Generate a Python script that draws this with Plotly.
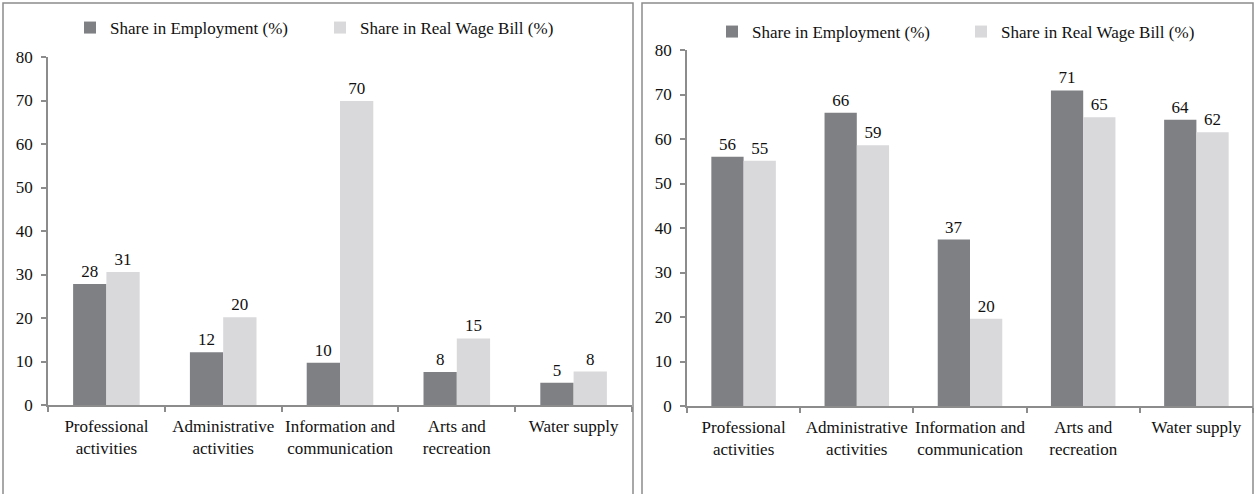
import plotly.graph_objects as go

categories = ["Professional<br>activities", "Administrative<br>activities",
              "Information and<br>communication", "Arts and<br>recreation", "Water supply"]
series_names = ["Share in Employment (%)", "Share in Real Wage Bill (%)"]

left_employment = [27.8, 12.1, 9.7, 7.6, 5.1]
left_wage_bill = [30.6, 20.2, 69.9, 15.3, 7.7]
right_employment = [56.0, 65.9, 37.4, 70.9, 64.3]
right_wage_bill = [55.1, 58.6, 19.6, 64.9, 61.5]

y_ticks = [0, 10, 20, 30, 40, 50, 60, 70, 80]

DARK = "#7f8084"
LIGHT = "#d9d9db"
AXIS = "#8c8c8c"
FONT = "Liberation Serif, Times New Roman, serif"
TXT = "#111111"
FS = 17
W, H = 1255, 494

fig = go.Figure()

def add_pair(emp, wage, xa, ya, leg):
    for vals, name, col in ((emp, series_names[0], DARK), (wage, series_names[1], LIGHT)):
        fig.add_trace(go.Bar(
            x=categories, y=vals, name=name, marker=dict(color=col, line=dict(width=0)),
            texttemplate="%{y:.0f}", textposition="outside", cliponaxis=False,
            textfont=dict(family=FONT, size=FS, color=TXT),
            xaxis=xa, yaxis=ya, legend=leg, hoverinfo="skip"))

add_pair(left_employment, left_wage_bill, "x", "y", "legend2")
add_pair(right_employment, right_wage_bill, "x2", "y2", "legend")

def px_x(p):
    return p / W

def px_y(p):
    return 1 - p / H

xcommon = dict(type="category", showline=True, linecolor=AXIS, linewidth=1.5,
               ticks="outside", ticklen=5, tickcolor=AXIS, tickwidth=1.5,
               tickson="boundaries", showgrid=False, zeroline=False, ticklabelstandoff=5,
               tickangle=0, automargin=False,
               tickfont=dict(family=FONT, size=FS, color=TXT), fixedrange=True)
ycommon = dict(range=[0, 80], tickvals=y_ticks, showline=True, linecolor=AXIS, linewidth=1.5,
               ticks="outside", ticklen=5, tickcolor=AXIS, tickwidth=1.5,
               showgrid=False, zeroline=False, ticklabelstandoff=5, automargin=False,
               tickfont=dict(family=FONT, size=FS, color=TXT), fixedrange=True)

legcommon = dict(orientation="h", xanchor="left", yanchor="middle",
                 font=dict(family=FONT, size=FS, color=TXT), bgcolor="rgba(0,0,0,0)",
                 entrywidthmode="pixels", traceorder="normal")

fig.update_layout(
    width=W, height=H, margin=dict(l=0, r=0, t=0, b=0, autoexpand=False),
    paper_bgcolor="white", plot_bgcolor="white",
    barmode="group", bargap=0.43, bargroupgap=0,
    font=dict(family=FONT, size=FS, color=TXT),
    xaxis=dict(domain=[px_x(48), px_x(632)], anchor="y", **xcommon),
    yaxis=dict(domain=[px_y(405), px_y(57)], anchor="x", **ycommon),
    xaxis2=dict(domain=[px_x(687), px_x(1253)], anchor="y2", **xcommon),
    yaxis2=dict(domain=[px_y(406), px_y(50)], anchor="x2", **ycommon),
    legend2=dict(x=px_x(70), y=px_y(28), entrywidth=205, **legcommon),
    legend=dict(x=px_x(712), y=px_y(32), entrywidth=204, **legcommon),
    showlegend=True,
)

# panel frames
for x0, x1 in ((3, 633), (642, 1253)):
    fig.add_shape(type="rect", xref="paper", yref="paper",
                  x0=px_x(x0), x1=px_x(x1), y0=px_y(3), y1=-0.05,
                  line=dict(color=AXIS, width=1.5), fillcolor="rgba(0,0,0,0)", layer="below")

fig.write_html("out.html",
               post_script="document.body.style.margin='0';document.body.style.overflow='hidden';")
